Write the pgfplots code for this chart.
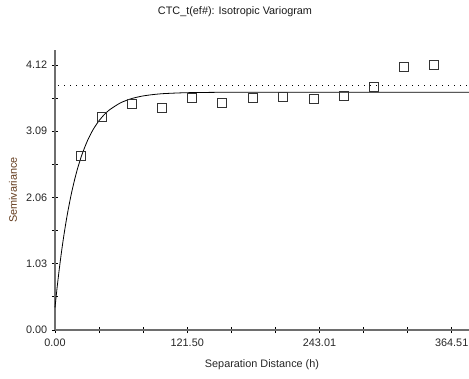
\documentclass[border=0pt]{standalone}
\usepackage{pgfplots}
\pgfplotsset{compat=1.18}
\usepackage{fontspec}
\setmainfont{Liberation Sans}
\definecolor{axgray}{RGB}{110,110,110}
\definecolor{ylab}{RGB}{100,60,30}
\begin{document}
\fontsize{10.9}{12.5}\selectfont
\begin{tikzpicture}
\path[use as bounding box] (-55bp,-49bp) rectangle (414bp,330bp);
\begin{axis}[
  at={(0,0)}, anchor=south west,
  scale only axis, width=414bp, height=280bp,
  xmin=0, xmax=380.4, ymin=0, ymax=4.353,
  axis x line=bottom, axis y line=left,
  axis line style={axgray, line width=1.2bp, -},
  xtick={0,121.503,243.006,364.51},
  xticklabels={0.00,121.50,243.01,364.51},
  minor xtick={40.501,81.002,162.004,202.505,283.507,324.008},
  ytick={0,1.03,2.06,3.09,4.12},
  yticklabels={0.00,1.03,2.06,3.09,4.12},
  minor ytick={0.515,1.545,2.575,3.605},
  tick align=center,
  major tick length=6bp, minor tick length=6bp,
  tick style={black, line width=0.8bp},
  ticklabel style={font=\fontsize{10.9}{12.5}\selectfont, text=black!85},
  /pgf/number format/assume math mode=true,
  xticklabel style={yshift=-2bp},
  yticklabel style={xshift=-1bp},
  clip=false,
]
\addplot[black, densely dotted, dash pattern=on 1bp off 5bp, line width=0.8bp, forget plot] coordinates {(3,3.80) (380.4,3.80)};
\addplot[black, line width=0.8bp, smooth, tension=0.4] coordinates {
(0,0.35) (2,0.669) (4,0.957) (6,1.218) (8,1.454) (10,1.667) (12,1.860) (15,2.116) (18,2.336) (21,2.526) (25,2.738) (30,2.950) (35,3.115) (40,3.244) (45,3.344) (50,3.422) (60,3.530) (70,3.596) (80,3.636) (90,3.660) (100,3.675) (120,3.689) (150,3.695) (200,3.697) (300,3.697) (380.4,3.697)};
\addplot[only marks, mark=square, mark size=4.5bp, mark options={black!80, line width=1.1bp, fill=none}] coordinates {
(23.6,2.705) (43.5,3.31) (70.5,3.51) (98.0,3.45) (125.9,3.607) (153.7,3.534) (181.7,3.60) (209.2,3.627) (237.7,3.587) (265.6,3.638) (293.1,3.773) (321.0,4.094) (348.5,4.12)};
\end{axis}
\node[text=black!90] at (180bp,318bp) {CTC\_t(ef\#): Isotropic Variogram};
\node[text=black!85] at (207bp,-35bp) {Separation Distance (h)};
\node[text=ylab, rotate=90] at (-42bp,140bp) {Semivariance};
\end{tikzpicture}
\end{document}
